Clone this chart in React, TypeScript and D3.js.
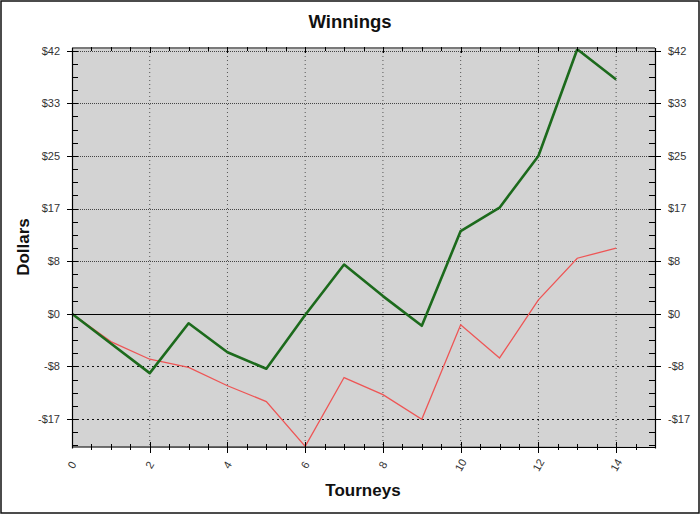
import { useEffect, useRef } from "react"
import * as d3 from "d3"

// tourney index
const tourneys = [0, 1, 2, 3, 4, 5, 6, 7, 8, 9, 10, 11, 12, 13, 14]
// dark green series (cumulative winnings)
const greenSeries = [0, -4.7, -9.4, -1.5, -6.1, -8.7, -0.2, 7.8, 2.8, -1.9, 13.1, 16.8, 25.0, 41.9, 37.1]
// red series
const redSeries = [0, -4.4, -7.2, -8.5, -11.4, -13.9, -21.0, -10.1, -12.8, -16.7, -1.75, -7.0, 2.2, 8.8, 10.4]

const xTicks = [0, 2, 4, 6, 8, 10, 12, 14]
const yStep = 25 / 3
const yTicks = [-2, -1, 0, 1, 2, 3, 4, 5].map((k) => k * yStep)

export default function App() {
  const svgRef = useRef<SVGSVGElement>(null)

  useEffect(() => {
    if (!svgRef.current) return
    const svg = d3.select(svgRef.current)
    svg.selectAll("*").remove()

    const width = 700
    const height = 514
    const left = 72
    const right = 655
    const top = 48
    const bottom = 447

    const x = d3.scaleLinear().domain([0, 15]).range([left, right])
    const y = d3.scaleLinear().domain([-21.1, 42.1]).range([bottom, top])

    const font = "Arial, 'Liberation Sans', sans-serif"

    // outer frame
    svg.append("rect").attr("width", width).attr("height", height).attr("fill", "#fff")
    svg
      .append("rect")
      .attr("x", 1)
      .attr("y", 1)
      .attr("width", width - 2)
      .attr("height", height - 2)
      .attr("fill", "none")
      .attr("stroke", "#111")
      .attr("stroke-width", 1.5)

    // plot background
    svg
      .append("rect")
      .attr("x", left)
      .attr("y", top)
      .attr("width", right - left)
      .attr("height", bottom - top)
      .attr("fill", "#d3d3d3")

    // vertical grid
    svg
      .append("g")
      .selectAll("line")
      .data(xTicks.filter((d) => d > 0))
      .join("line")
      .attr("x1", (d) => x(d))
      .attr("x2", (d) => x(d))
      .attr("y1", top)
      .attr("y2", bottom)
      .attr("stroke", "#555")
      .attr("stroke-width", 1)
      .attr("stroke-dasharray", "1,3")

    // horizontal grid
    svg
      .append("g")
      .selectAll("line")
      .data(yTicks.filter((d) => Math.abs(d) > 0.01))
      .join("line")
      .attr("x1", left)
      .attr("x2", right)
      .attr("y1", (d) => Math.round(y(d)) + 0.5)
      .attr("y2", (d) => Math.round(y(d)) + 0.5)
      .attr("stroke", (d) => (d > 0 ? "#444" : "#111"))
      .attr("stroke-width", 1)
      .attr("stroke-dasharray", (d) => (d > 0 ? "1,1" : "2,3"))

    // zero line
    svg
      .append("line")
      .attr("x1", left)
      .attr("x2", right)
      .attr("y1", Math.round(y(0)) + 0.5)
      .attr("y2", Math.round(y(0)) + 0.5)
      .attr("stroke", "#000")
      .attr("stroke-width", 1)

    // lines
    const line = d3
      .line<number>()
      .x((_, i) => x(tourneys[i]))
      .y((d) => y(d))

    svg
      .append("path")
      .datum(redSeries)
      .attr("d", line)
      .attr("fill", "none")
      .attr("stroke", "#ee5555")
      .attr("stroke-width", 1.3)

    svg
      .append("path")
      .datum(greenSeries)
      .attr("d", line)
      .attr("fill", "none")
      .attr("stroke", "#1c6a1c")
      .attr("stroke-width", 2.6)
      .attr("stroke-linejoin", "round")

    // axes frame
    svg
      .append("line")
      .attr("x1", left)
      .attr("x2", right)
      .attr("y1", top)
      .attr("y2", top)
      .attr("stroke", "#7a7a7a")
      .attr("stroke-width", 2)
    const axisLines = [
      [left, top, left, bottom + 1],
      [right, top, right, bottom + 1],
      [left, bottom, right, bottom],
    ]
    svg
      .append("g")
      .selectAll("line")
      .data(axisLines)
      .join("line")
      .attr("x1", (d) => d[0] + 0.5)
      .attr("y1", (d) => d[1])
      .attr("x2", (d) => d[2] + 0.5)
      .attr("y2", (d) => d[3] + 0.5)
      .attr("stroke", "#000")
      .attr("stroke-width", 1.2)

    // minor ticks
    const yMinor = d3.range(-10, 21).map((k) => (k * yStep) / 4).filter((v) => v >= -21.1 && v <= 42.1)
    const xMinor = d3.range(1, 30).map((k) => k * 0.5)
    const ticks = svg.append("g").attr("stroke", "#000").attr("stroke-width", 1)

    yMinor.forEach((v) => {
      const isMajor = yTicks.some((t) => Math.abs(t - v) < 0.01)
      const py = Math.round(y(v)) + 0.5
      ticks
        .append("line")
        .attr("x1", isMajor ? left - 5 : left)
        .attr("x2", left + 6)
        .attr("y1", py)
        .attr("y2", py)
      ticks
        .append("line")
        .attr("x1", right - 6)
        .attr("x2", isMajor ? right + 6 : right)
        .attr("y1", py)
        .attr("y2", py)
    })

    xMinor.forEach((v) => {
      const isMajor = xTicks.includes(v)
      const px = Math.round(x(v)) + 0.5
      ticks
        .append("line")
        .attr("x1", px)
        .attr("x2", px)
        .attr("y1", isMajor ? bottom - 5 : bottom - 3)
        .attr("y2", isMajor ? bottom + 6 : bottom + 3)
      ticks
        .append("line")
        .attr("x1", px)
        .attr("x2", px)
        .attr("y1", top - 1)
        .attr("y2", isMajor ? top + 5 : top + 3)
    })

    // y tick labels
    const fmt = (v: number) => (Math.round(v) < 0 ? `-$${Math.abs(Math.round(v))}` : `$${Math.round(v)}`)
    const labels = svg.append("g").attr("font-family", font).attr("font-size", 11).attr("fill", "#333")
    labels
      .selectAll("text.yl")
      .data(yTicks)
      .join("text")
      .attr("class", "yl")
      .attr("x", 60)
      .attr("y", (d) => y(d))
      .attr("dy", "0.35em")
      .attr("text-anchor", "end")
      .text(fmt)
    labels
      .selectAll("text.yr")
      .data(yTicks)
      .join("text")
      .attr("class", "yr")
      .attr("x", 668)
      .attr("y", (d) => y(d))
      .attr("dy", "0.35em")
      .attr("text-anchor", "start")
      .text(fmt)

    // x tick labels
    labels
      .selectAll("text.xl")
      .data(xTicks)
      .join("text")
      .attr("class", "xl")
      .attr("transform", (d) => `translate(${x(d)},465) rotate(-60)`)
      .attr("dy", "0.35em")
      .attr("text-anchor", "middle")
      .text((d) => d)

    // titles
    svg
      .append("text")
      .attr("x", 350)
      .attr("y", 28)
      .attr("text-anchor", "middle")
      .attr("font-family", font)
      .attr("font-weight", "bold")
      .attr("font-size", 18.5)
      .attr("fill", "#111")
      .text("Winnings")

    svg
      .append("text")
      .attr("x", 363)
      .attr("y", 496)
      .attr("text-anchor", "middle")
      .attr("font-family", font)
      .attr("font-weight", "bold")
      .attr("font-size", 17)
      .attr("fill", "#111")
      .text("Tourneys")

    svg
      .append("text")
      .attr("transform", "translate(29,247) rotate(-90)")
      .attr("text-anchor", "middle")
      .attr("font-family", font)
      .attr("font-weight", "bold")
      .attr("font-size", 17)
      .attr("fill", "#111")
      .text("Dollars")
  }, [])

  return <svg ref={svgRef} width={700} height={514} style={{ display: "block", position: "absolute", left: 0, top: 0 }} />
}
